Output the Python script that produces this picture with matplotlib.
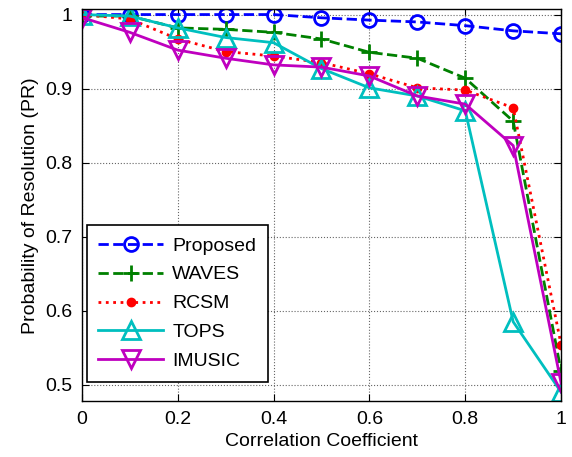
import numpy as np
import matplotlib
matplotlib.use("Agg")
import matplotlib.pyplot as plt

plt.rcParams['font.family'] = ['Liberation Sans', 'DejaVu Sans']

# correlation coefficient sweep
rho = [0.0, 0.1, 0.2, 0.3, 0.4, 0.5, 0.6, 0.7, 0.8, 0.9, 1.0]

# probability of resolution per method
pr_proposed = [1.0, 1.0, 1.0, 1.0, 1.0, 0.9956, 0.9925, 0.990, 0.985, 0.978, 0.974]
pr_waves = [0.998, 0.998, 0.982, 0.980, 0.976, 0.967, 0.949, 0.941, 0.914, 0.856, 0.518]
pr_rcsm = [1.0, 0.994, 0.967, 0.950, 0.944, 0.935, 0.920, 0.901, 0.898, 0.874, 0.554]
pr_tops = [1.0, 0.998, 0.982, 0.969, 0.962, 0.927, 0.901, 0.890, 0.870, 0.585, 0.490]
pr_imusic = [0.996, 0.976, 0.952, 0.941, 0.932, 0.929, 0.917, 0.890, 0.879, 0.823, 0.502]

x_ticks = [0, 0.2, 0.4, 0.6, 0.8, 1]
y_ticks = [0.5, 0.6, 0.7, 0.8, 0.9, 1.0]

fig = plt.figure(figsize=(5.72, 4.57), dpi=100)
ax = fig.add_axes([0.143, 0.1225, 0.838, 0.857])

lw = 2.0
ax.plot(rho, pr_proposed, '--', color='#0000ff', lw=lw, marker='o', ms=10,
        mfc='none', mew=2, label='Proposed')
ax.plot(rho, pr_waves, '--', color='#008000', lw=lw, marker='+', ms=12,
        mew=2, label='WAVES')
ax.plot(rho, pr_rcsm, ':', color='#ff0000', lw=lw, marker='.', ms=12,
        label='RCSM')
ax.plot(rho, pr_tops, '-', color='#00bfbf', lw=lw, marker='^', ms=13,
        mfc='none', mew=2, label='TOPS')
ax.plot(rho, pr_imusic, '-', color='#bf00bf', lw=lw, marker='v', ms=13,
        mfc='none', mew=2, label='IMUSIC')

ax.set_xlim(0, 1)
ax.set_ylim(0.478, 1.007)
ax.set_xticks(x_ticks)
ax.set_xticklabels(['0', '0.2', '0.4', '0.6', '0.8', '1'])
ax.set_yticks(y_ticks)
ax.set_yticklabels(['0.5', '0.6', '0.7', '0.8', '0.9', '1'])
ax.tick_params(direction='in', top=True, right=True, labelsize=14, length=5,
               pad=7)
ax.grid(True, linestyle=':', color='#666666', lw=0.8)
for s in ax.spines.values():
    s.set_linewidth(1.0)

ax.set_xlabel('Correlation Coefficient', fontsize=14)
ax.set_ylabel('Probability of Resolution (PR)', fontsize=14)

leg = ax.legend(loc='lower left', bbox_to_anchor=(0.0104, 0.049),
                borderaxespad=0, fontsize=14, fancybox=False,
                edgecolor='black', framealpha=1, handlelength=3.3,
                borderpad=0.6, labelspacing=0.58, handletextpad=0.5)
leg.get_frame().set_linewidth(1.2)

fig.savefig('out.png', dpi=100)
